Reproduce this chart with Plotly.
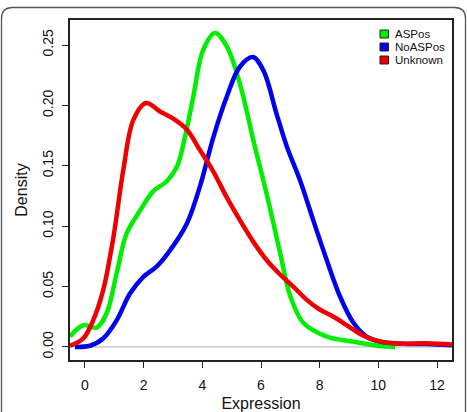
import plotly.graph_objects as go

# ---- data ----
aspos_x = [-0.51, -0.06, 0.4, 0.74, 1.08, 1.42, 1.88, 2.33, 2.78, 3.13, 3.41, 3.69, 4.03, 4.43,
           4.83, 5.28, 5.74, 6.19, 6.65, 7.0, 7.44, 8.24, 9.15, 10.06, 10.57]
aspos_y = [0.0086, 0.018, 0.016, 0.028, 0.061, 0.094, 0.113, 0.129, 0.137, 0.149, 0.174, 0.207,
           0.246, 0.260, 0.249, 0.218, 0.171, 0.127, 0.078, 0.042, 0.020, 0.0086, 0.0044, 0.0008, 0.0]

noaspos_x = [-0.34, 0.17, 0.62, 1.08, 1.53, 1.99, 2.44, 2.9, 3.47, 3.92, 4.38, 4.83, 5.28, 5.72,
             6.08, 6.53, 6.88, 7.33, 7.78, 8.24, 8.69, 9.15, 9.6, 10.06, 10.97, 11.65, 12.5]
noaspos_y = [0.0, 0.001, 0.007, 0.022, 0.044, 0.058, 0.0665, 0.080, 0.102, 0.133, 0.174, 0.207,
             0.232, 0.240, 0.229, 0.193, 0.166, 0.138, 0.105, 0.072, 0.042, 0.020, 0.0086, 0.0044,
             0.0025, 0.0025, 0.0014]

unknown_x = [-0.51, -0.06, 0.28, 0.62, 0.97, 1.31, 1.65, 2.08, 2.56, 3.01, 3.47, 3.92, 4.38, 4.83,
             5.28, 5.74, 6.19, 6.65, 7.1, 7.56, 8.0, 8.47, 8.92, 9.37, 9.83, 10.5, 11.65, 12.5]
unknown_y = [0.001, 0.007, 0.022, 0.047, 0.091, 0.147, 0.188, 0.202, 0.195, 0.189, 0.180, 0.163,
             0.145, 0.124, 0.105, 0.087, 0.072, 0.060, 0.050, 0.039, 0.031, 0.025, 0.018, 0.011,
             0.006, 0.003, 0.003, 0.002]

series_names = ["ASPos", "NoASPos", "Unknown"]
series_colors = ["#00ee00", "#0000ee", "#ee0000"]
x_ticks = [0, 2, 4, 6, 8, 10, 12]
y_ticks = [0.00, 0.05, 0.10, 0.15, 0.20, 0.25]

FONT = "Liberation Sans, Arial, Helvetica, sans-serif"

fig = go.Figure()

# zero line (R density plot)
fig.add_hline(y=0, line=dict(color="#b0b0b0", width=1), layer="below")

for xs, ys, col in [(aspos_x, aspos_y, series_colors[0]),
                    (noaspos_x, noaspos_y, series_colors[1]),
                    (unknown_x, unknown_y, series_colors[2])]:
    fig.add_trace(go.Scatter(x=xs, y=ys, mode="lines",
                             line=dict(color=col, width=4.5, shape="spline", smoothing=1.0),
                             showlegend=False, cliponaxis=True))

# Plot area geometry (pixels) for manual legend/frame
W, H = 467, 412
ml, mr, mt, mb = 70, 15, 20, 52
pw, ph = W - ml - mr, H - mt - mb

def px(x):
    return (x - ml) / pw

def py(y):
    return (H - mb - y) / ph

# manual legend
row_y = [34, 47, 60]
for name, col, ry in zip(series_names, series_colors, row_y):
    fig.add_shape(type="rect", xref="paper", yref="paper",
                  x0=px(380), x1=px(388.5), y0=py(ry + 4), y1=py(ry - 4),
                  fillcolor=col, line=dict(color="#222222", width=1))
    fig.add_annotation(x=px(394), y=py(ry), xref="paper", yref="paper", text=name,
                       showarrow=False, xanchor="left", yanchor="middle", borderpad=0,
                       font=dict(family=FONT, size=11.5, color="#111111"))

# outer rounded frame
x0, x1, y0, y1 = px(1.5), px(465.5), py(430), py(7.5)
rx, ry_ = 11 / pw, 11 / ph
path = (f"M {x0} {y1 - ry_} Q {x0} {y1} {x0 + rx} {y1} L {x1 - rx} {y1} "
        f"Q {x1} {y1} {x1} {y1 - ry_} L {x1} {y0} L {x0} {y0} Z")
fig.add_shape(type="path", path=path, xref="paper", yref="paper",
              line=dict(color="#555555", width=1.3), layer="below")

fig.update_layout(
    width=W, height=H,
    margin=dict(l=ml, r=mr, t=mt, b=mb),
    paper_bgcolor="white", plot_bgcolor="white",
    font=dict(family=FONT, color="#111111"),
    showlegend=False,
    xaxis=dict(range=[-0.51, 12.51], tickvals=x_ticks, ticktext=[str(v) for v in x_ticks],
               automargin=False,
               showgrid=False, zeroline=False, showline=True, linecolor="#222222", linewidth=2,
               mirror=True, ticks="outside", ticklen=6, tickwidth=1.2, tickcolor="#222222",
               ticklabelstandoff=5,
               tickfont=dict(size=14, family=FONT),
               title=dict(text="Expression", font=dict(size=16, family=FONT), standoff=10)),
    yaxis=dict(range=[-0.0108, 0.2707], tickvals=y_ticks, ticktext=[f"{v:.2f}" for v in y_ticks],
               tickangle=-90, automargin=False,
               showgrid=False, zeroline=False, showline=True, linecolor="#222222", linewidth=2,
               mirror=True, ticks="outside", ticklen=6, tickwidth=1.2, tickcolor="#222222",
               ticklabelstandoff=3,
               tickfont=dict(size=14, family=FONT),
               title=dict(text="Density", font=dict(size=16, family=FONT), standoff=9)),
)

fig.write_html("out.html")
